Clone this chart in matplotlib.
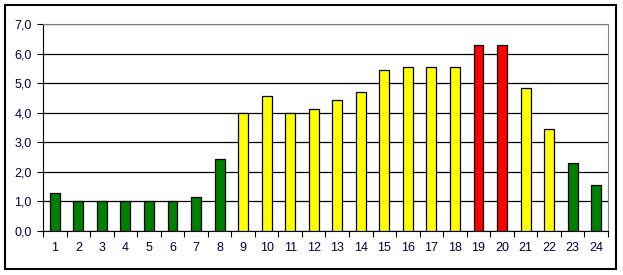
import matplotlib.pyplot as plt
import numpy as np
from matplotlib.patches import Rectangle
from matplotlib.ticker import FuncFormatter, MultipleLocator

# Dados
horas = [str(h) for h in range(1, 25)]
valores = [1.3, 1.0, 1.0, 1.0, 1.0, 1.0, 1.15, 2.45, 4.0, 4.55, 4.0, 4.12,
           4.42, 4.7, 5.43, 5.55, 5.55, 5.55, 6.28, 6.28, 4.85, 3.45, 2.3, 1.55]
cores = ['#008000'] * 8 + ['#FFFF00'] * 10 + ['#FF0000'] * 2 + ['#FFFF00'] * 2 + ['#008000'] * 2

plt.rcParams['font.family'] = ['Liberation Sans', 'DejaVu Sans']

fig = plt.figure(figsize=(6.23, 2.75), dpi=100)
ax = fig.add_axes([43 / 623, 1 - 231 / 275, (608 - 43) / 623, (231 - 24) / 275])

# moldura externa
fig.patches.append(Rectangle((5 / 623, 1 - 269 / 275), 611 / 623, 264 / 275,
                             transform=fig.transFigure, fill=False,
                             edgecolor='black', linewidth=1.5))

x = np.arange(len(horas))
ax.bar(x, valores, width=0.42, color=cores, edgecolor='black', linewidth=0.9, zorder=3)

ax.set_xlim(-0.5, len(horas) - 0.5)
ax.set_ylim(0, 7)
ax.yaxis.set_major_locator(MultipleLocator(1))
ax.yaxis.set_major_formatter(FuncFormatter(lambda v, p: f'{v:.1f}'.replace('.', ',')))
ax.grid(axis='y', color='black', linewidth=0.9, zorder=0)

# ticks do eixo x entre as categorias
ax.set_xticks(np.arange(-0.5, len(horas), 1.0))
ax.set_xticklabels([])
ax.set_xticks(x, minor=True)
ax.set_xticklabels(horas, minor=True)
ax.tick_params(axis='x', which='major', direction='out', length=4, color='black')
ax.tick_params(axis='x', which='minor', length=0, pad=8)
ax.tick_params(axis='y', direction='out', length=4, pad=4)
ax.tick_params(which='both', labelsize=9, labelcolor='#000040')

for lado in ['top', 'right']:
    ax.spines[lado].set_color('#808080')
for lado in ['left', 'bottom']:
    ax.spines[lado].set_color('black')

fig.savefig('out.png', dpi=100)
